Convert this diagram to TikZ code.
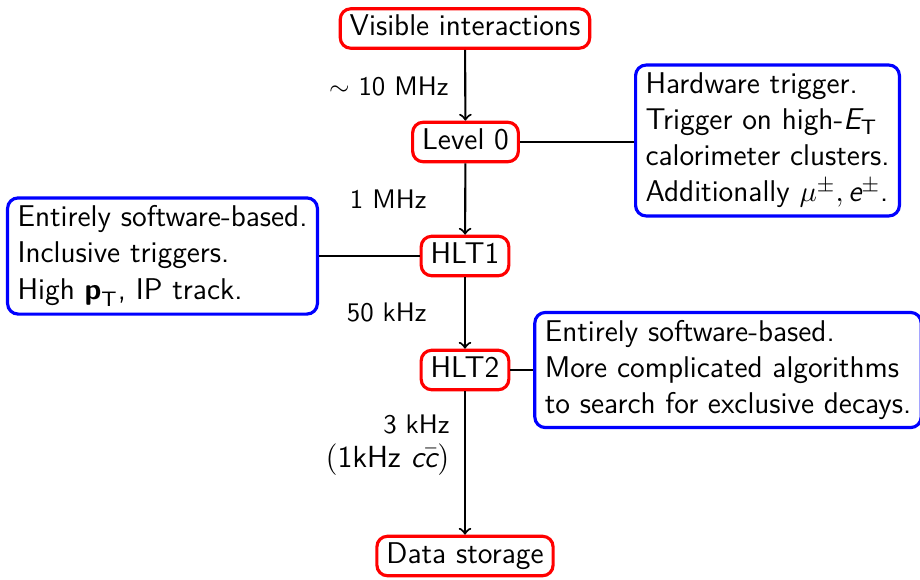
\documentclass[tikz,border=0pt]{standalone}
\usepackage{amsmath}
\tikzset{
  base/.style={font=\sffamily\fontsize{11.4}{13.7}\selectfont},
  small/.style={font=\sffamily\fontsize{10.2}{12.9}\selectfont},
  redbox/.style={base, draw=red, very thick, rounded corners=4pt, fill=white,
    inner xsep=3.6pt, inner ysep=2pt, text height=8.3pt, text depth=2.7pt},
  bluebox/.style={base, draw=blue, very thick, rounded corners=4pt, fill=white,
    align=left, inner xsep=3.8pt, inner ysep=3pt},
  flow/.style={thick, ->},
  link/.style={thick},
  rate/.style={small, inner sep=0pt},
  bigrate/.style={font=\sffamily\fontsize{11.6}{13.9}\selectfont, inner sep=0pt}
}
\begin{document}
\begin{tikzpicture}[x=0.38pt,y=-0.38pt]
\useasboundingbox (0,0) rectangle (920,580);
% main chain
\node[redbox] (vis) at (465,28.5) {Visible interactions};
\node[redbox] (l0) at (465.5,142) {Level 0};
\node[redbox] (h1) at (465,256) {HLT1};
\node[redbox] (h2) at (465,370) {HLT2};
\node[redbox] (ds) at (465,556) {Data storage};
% description boxes
\node[bluebox] (b1) at (767.5,140.5) {Hardware trigger.\\
  Trigger on high-$\text{\itshape E}_{\text{T}}$\\
  calorimeter clusters.\\
  Additionally $\mu^{\pm},\text{\itshape e}^{\pm}$.};
\node[bluebox] (b2) at (162.5,256) {Entirely software-based.\\
  Inclusive triggers.\\
  High $\text{\bfseries p}_{\text{T}}$, IP track.};
\node[bluebox] (b3) at (728,370) {Entirely software-based.\\
  More complicated algorithms\\
  to search for exclusive decays.};
% arrows
\draw[flow] (vis) -- (l0);
\draw[flow] (l0) -- (h1);
\draw[flow] (h1) -- (h2);
\draw[flow] (h2) -- (ds);
% links
\draw[link] (l0.east) -- (l0.east -| b1.west);
\draw[link] (h1.west) -- (h1.west -| b2.east);
\draw[link] (h2.east) -- (h2.east -| b3.west);
% rates
\node[rate, anchor=base east] (r0) at (449,95) {$\sim$ 10 MHz};
\node[rate, anchor=base east] (r1) at (427,208) {1 MHz};
\node[rate, anchor=base east] (r2) at (427,321) {50 kHz};
\node[rate, anchor=base east] (r3) at (450,433) {3 kHz};
\node[bigrate, anchor=base east] (r4) at (450,467) {$($1kHz $\text{\itshape c}\bar{\text{\itshape c}})$};
\end{tikzpicture}
\end{document}
